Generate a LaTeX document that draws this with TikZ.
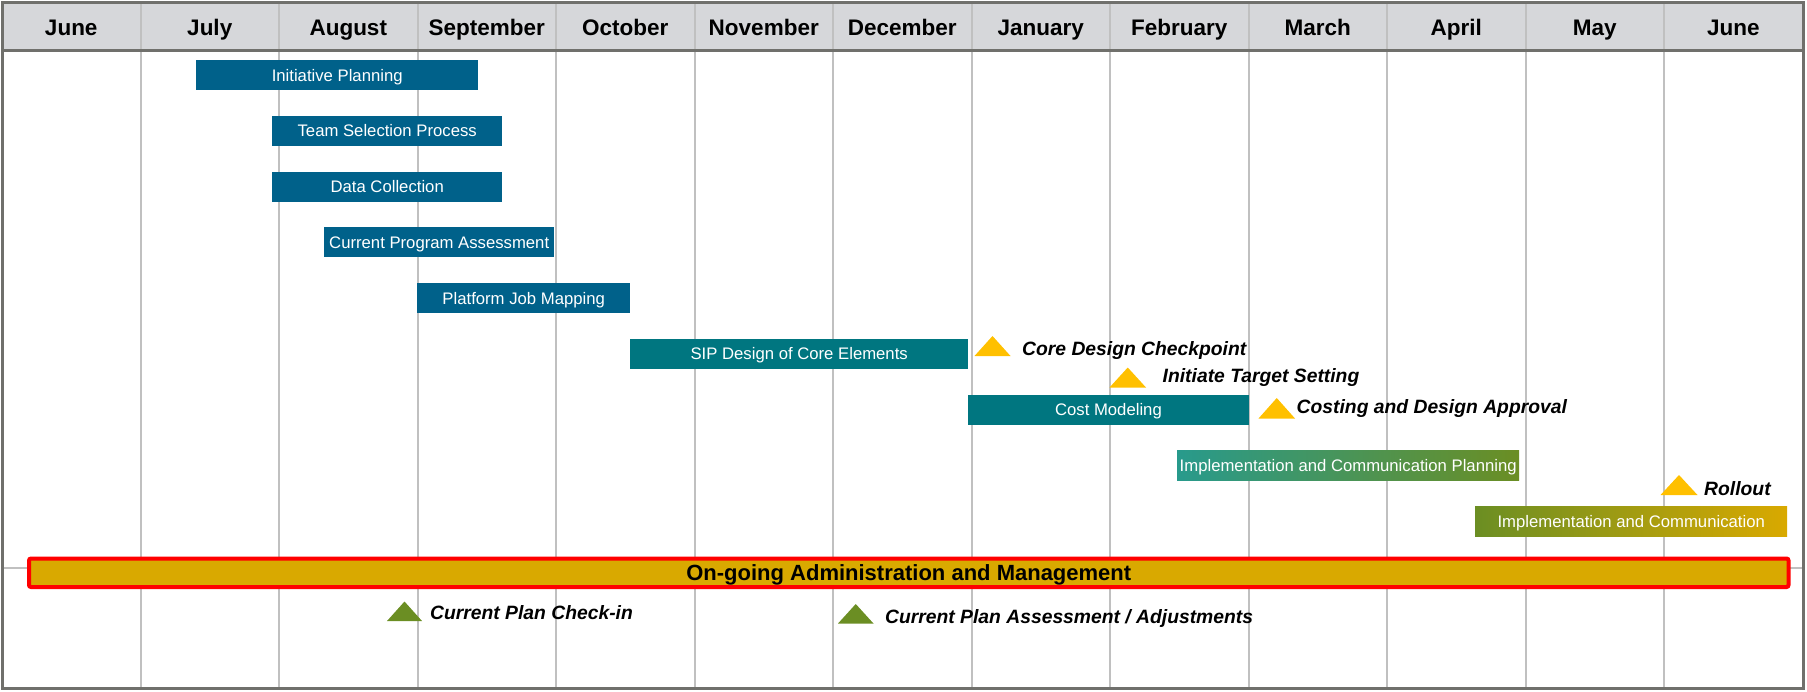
\documentclass[tikz,border=0pt]{standalone}
\usepackage{fontspec}
\setmainfont{Liberation Sans}
\definecolor{barblue}{RGB}{0,97,138}
\definecolor{barteal}{RGB}{0,118,128}
\definecolor{mintteal}{RGB}{40,154,140}
\definecolor{leafgreen}{RGB}{107,142,35}
\definecolor{ochre}{RGB}{217,169,0}
\definecolor{amber}{RGB}{255,192,0}
\definecolor{headgrey}{RGB}{214,215,218}
\definecolor{gridgrey}{RGB}{192,192,192}
\definecolor{framegrey}{RGB}{112,112,108}
\tikzset{
    bar/.style={anchor=west, inner sep=0pt, minimum height=30pt, text=white, font=\fontsize{16.7}{20}\selectfont, text height=12pt, text depth=0pt},
    bluebar/.style={bar, fill=barblue},
    tealbar/.style={bar, fill=barteal},
    monthhead/.style={anchor=base, inner sep=0pt, font=\fontsize{22.5}{27}\selectfont\bfseries},
    mslabel/.style={anchor=base west, inner sep=0pt, font=\fontsize{19.3}{23}\selectfont\bfseries\itshape},
    gridline/.style={draw=gridgrey, line width=2pt},
    flag/.style={fill=amber},
    greenflag/.style={fill=leafgreen}
}

\begin{document}
\begin{tikzpicture}[x=1pt, y=-1pt]
    \useasboundingbox (0,0) rectangle (1807,691);

    % Header band and grid
    \fill[headgrey] (2,2) rectangle (1803,50.5);
    \foreach \i in {1,...,12}
        \draw[gridline] ({2+138.5*\i},2) -- ({2+138.5*\i},688);
    \draw[gridline] (2,567.5) -- (1803,567.5);
    \foreach \m [count=\i from 0] in {June,July,August,September,October,November,December,January,February,March,April,May,June}
        \node[monthhead] (month\i) at ({2+138.5*(\i+0.5)},35) {\m};
    \draw[framegrey, line width=3pt] (2,50.5) -- (1803,50.5);
    \draw[framegrey, line width=3pt] (2,2) rectangle (1803,688.5);

    % Tasks
    \node[bluebar, minimum width=282pt] (initplan) at (196,75) {Initiative Planning};
    \node[bluebar, minimum width=230pt] (teamsel) at (272,130.75) {Team Selection Process};
    \node[bluebar, minimum width=230pt] (datacoll) at (272,186.5) {Data Collection};
    \node[bluebar, minimum width=230pt] (progassess) at (324,242.25) {Current Program Assessment};
    \node[bluebar, minimum width=213pt] (jobmap) at (417,298) {Platform Job Mapping};
    \node[tealbar, minimum width=338pt] (sipdesign) at (630,353.75) {SIP Design of Core Elements};
    \node[tealbar, minimum width=280.5pt] (costmodel) at (968,409.5) {Cost Modeling};
    \node[bar, left color=mintteal, right color=leafgreen, minimum width=342pt] (implplan) at (1177,465.25) {Implementation and Communication Planning};
    \node[bar, left color=leafgreen, right color=ochre, minimum width=312pt] (implcomm) at (1475,521) {Implementation and Communication};

    % Ongoing band
    \node[anchor=west, draw=red, line width=4pt, fill=ochre, rounded corners=2pt, minimum width=1759.5pt, minimum height=28.5pt, inner sep=0pt, font=\fontsize{22}{26}\selectfont\bfseries, text height=15.8pt, text depth=0pt] (ongoing) at (27,572.75) {On-going Administration and Management};

    % Milestones
    \fill[flag] (974.5,356) -- (992.5,336) -- (1010.5,356) -- cycle;
    \node[mslabel] (coredesign) at (1022,355) {Core Design Checkpoint};
    \fill[flag] (1109.5,387.5) -- (1127.75,367.5) -- (1146,387.5) -- cycle;
    \node[mslabel] (targetset) at (1162.5,382.5) {Initiate Target Setting};
    \fill[flag] (1258.5,418.5) -- (1276.75,398) -- (1295,418.5) -- cycle;
    \node[mslabel] (costapprove) at (1296.5,413.5) {Costing and Design Approval};
    \fill[flag] (1660.5,495) -- (1679,475) -- (1697.5,495) -- cycle;
    \node[mslabel] (rollout) at (1704,495) {Rollout};
    \fill[greenflag] (387,621) -- (404.5,601.5) -- (422,621) -- cycle;
    \node[mslabel] (checkin) at (430,619.3) {Current Plan Check-in};
    \fill[greenflag] (838,623.5) -- (855.75,604) -- (873.5,623.5) -- cycle;
    \node[mslabel] (planassess) at (885,623) {Current Plan Assessment / Adjustments};
\end{tikzpicture}
\end{document}
